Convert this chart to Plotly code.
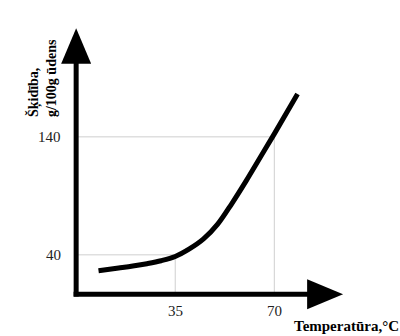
import plotly.graph_objects as go

# Data
temps = [7.9, 15, 20, 25, 30, 35, 40, 45, 50, 55, 60, 65, 70, 78.2]
solubility = [26.5, 28.8, 30.5, 32.5, 35.0, 38.6, 45.0, 53.5, 66.0, 83.5, 102.5, 122.5, 142.5, 176.3]
x_ticks = [35, 70]
y_ticks = [40, 140]
x_tick_labels = ["35", "70"]
y_tick_labels = ["40", "140"]

X_AXIS_Y = 6.5
FONT = "Liberation Serif"

fig = go.Figure()

# drop lines (partial grid)
for xt, yt in zip(x_ticks, y_ticks):
    fig.add_trace(go.Scatter(x=[xt, xt], y=[X_AXIS_Y, yt], mode="lines",
                             line=dict(color="#cfcfcf", width=1), hoverinfo="skip", showlegend=False))
    fig.add_trace(go.Scatter(x=[0, xt], y=[yt, yt], mode="lines",
                             line=dict(color="#cfcfcf", width=1), hoverinfo="skip", showlegend=False))

# curve
fig.add_trace(go.Scatter(x=temps, y=solubility, mode="lines",
                         line=dict(color="black", width=5, shape="spline", smoothing=1.0),
                         showlegend=False))

shapes = [
    # y axis line
    dict(type="line", xref="x", yref="y", x0=0, x1=0, y0=X_AXIS_Y - 1.8, y1=205,
         line=dict(color="black", width=5)),
    # x axis line
    dict(type="line", xref="x", yref="y", x0=-0.9, x1=83, y0=X_AXIS_Y, y1=X_AXIS_Y,
         line=dict(color="black", width=5)),
    # y arrowhead
    dict(type="path", xref="x", yref="y",
         path="M -5.3,202 L 0,232 L 5.3,202 Z", fillcolor="black", line=dict(color="black", width=0)),
    # x arrowhead
    dict(type="path", xref="x", yref="y",
         path=f"M 81.6,{X_AXIS_Y+12.7} L 94.3,{X_AXIS_Y} L 81.6,{X_AXIS_Y-12.7} Z",
         fillcolor="black", line=dict(color="black", width=0)),
]

annotations = []
for yt, lab in zip(y_ticks, y_tick_labels):
    annotations.append(dict(x=-4.5, y=yt, xref="x", yref="y", text=lab, showarrow=False,
                            xanchor="right", yanchor="middle",
                            font=dict(family=FONT, size=15, color="#222")))
for xt, lab in zip(x_ticks, x_tick_labels):
    annotations.append(dict(x=xt, y=X_AXIS_Y - 5.5, xref="x", yref="y", text=lab, showarrow=False,
                            xanchor="center", yanchor="top",
                            font=dict(family=FONT, size=15, color="#222")))

annotations.append(dict(x=1, y=0, xref="paper", yref="paper", text="<b>Temperatūra,°C</b>",
                        showarrow=False, xanchor="right", yanchor="bottom", xshift=1, yshift=0,
                        font=dict(family=FONT, size=15, color="black")))
annotations.append(dict(x=-12.0, y=190, xref="x", yref="y",
                        text="<b>Šķidība,<br>g/100g ūdens</b>", textangle=-90, align="left",
                        showarrow=False, xanchor="center", yanchor="middle",
                        font=dict(family=FONT, size=14, color="black")))

fig.update_layout(
    width=400, height=336,
    margin=dict(l=0, r=0, t=0, b=0),
    paper_bgcolor="white", plot_bgcolor="white",
    xaxis=dict(range=[-26.9, 114.4], visible=False, fixedrange=True),
    yaxis=dict(range=[-28.8, 256], visible=False, fixedrange=True),
    shapes=shapes, annotations=annotations, showlegend=False,
)

fig.write_html("out.html")
